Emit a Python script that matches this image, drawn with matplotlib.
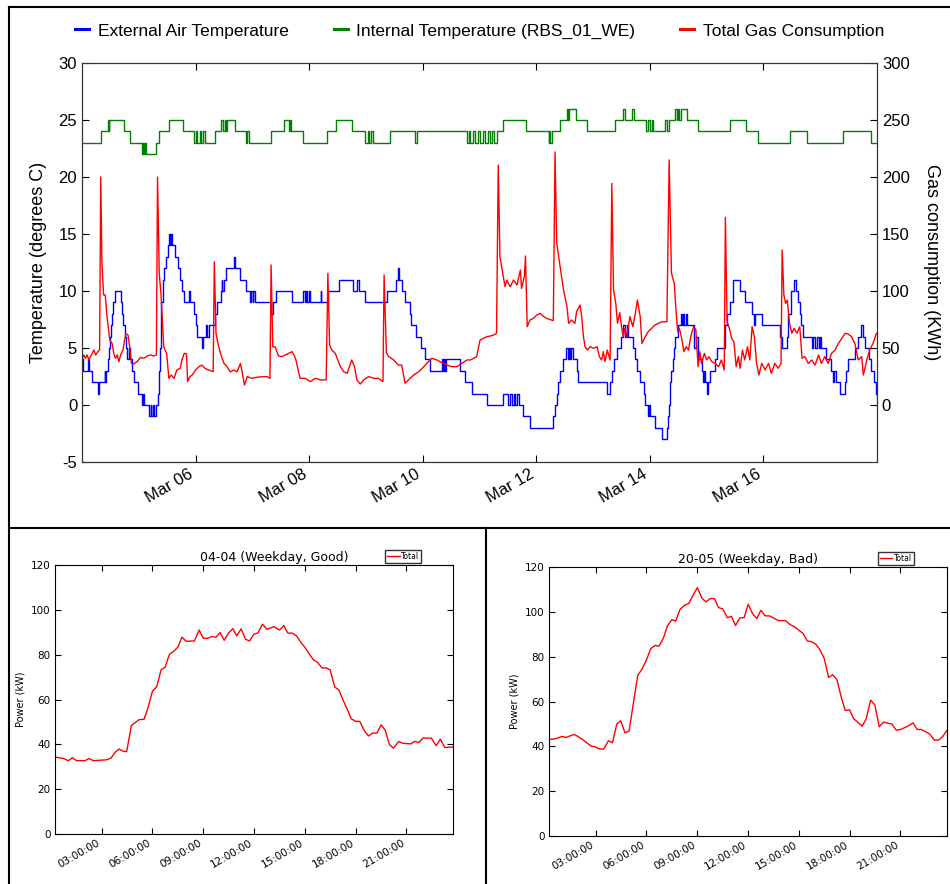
import numpy as np
import pandas as pd
import matplotlib
matplotlib.use('Agg')
import matplotlib.pyplot as plt
import matplotlib.dates as mdates
from matplotlib.lines import Line2D

plt.rcParams['axes.unicode_minus'] = False

# ---------------------------------------------------------------
# Data
# ---------------------------------------------------------------
start = pd.Timestamp('2014-03-04')

# external air temperature: (days since Mar 04, deg C), step changes
ext_air = [
    (0.00, 4), (0.02, 3), (0.10, 4), (0.13, 3), (0.18, 2), (0.28, 1), (0.30, 2), (0.40, 3), (0.41, 2),
    (0.43, 3), (0.45, 4), (0.47, 5), (0.49, 6), (0.51, 7), (0.53, 8), (0.55, 9), (0.58, 10), (0.68, 9),
    (0.70, 8), (0.72, 7), (0.75, 6), (0.78, 5), (0.80, 4), (0.82, 5), (0.84, 4), (0.88, 3), (0.91, 2),
    (0.98, 1), (1.06, 0), (1.08, 1), (1.09, 0), (1.18, -1), (1.21, 0), (1.22, -1), (1.25, 0), (1.26, -1),
    (1.31, 0), (1.33, 1), (1.35, 3), (1.37, 5), (1.39, 7), (1.40, 9), (1.43, 11), (1.45, 12), (1.48, 13),
    (1.51, 14), (1.53, 15), (1.55, 14), (1.56, 15), (1.59, 14), (1.63, 13), (1.69, 12), (1.72, 11),
    (1.76, 10), (1.79, 9), (1.88, 10), (1.90, 9), (1.97, 8), (2.00, 7), (2.03, 6), (2.11, 5), (2.13, 6),
    (2.19, 7), (2.21, 6), (2.23, 7), (2.34, 8), (2.38, 9), (2.44, 10), (2.46, 11), (2.47, 10), (2.50, 11),
    (2.54, 12), (2.67, 13), (2.69, 12), (2.79, 11), (2.88, 10), (2.96, 9), (2.98, 10), (3.01, 9),
    (3.02, 10), (3.04, 9), (3.32, 8), (3.36, 9), (3.42, 10), (3.70, 9), (3.90, 10), (3.92, 9), (3.94, 10),
    (3.97, 9), (3.99, 10), (4.01, 9), (4.20, 10), (4.21, 9), (4.34, 10), (4.52, 11), (4.77, 10),
    (4.85, 11), (4.87, 10), (4.99, 9), (5.37, 10), (5.53, 11), (5.56, 12), (5.59, 11), (5.63, 10),
    (5.68, 9), (5.77, 8), (5.80, 7), (5.88, 6), (5.97, 5), (6.04, 4), (6.13, 3), (6.34, 4), (6.36, 3),
    (6.38, 4), (6.40, 3), (6.41, 4), (6.65, 3), (6.74, 2), (6.87, 1), (7.13, 0), (7.41, 1), (7.51, 0),
    (7.54, 1), (7.57, 0), (7.60, 1), (7.63, 0), (7.66, 1), (7.69, 0), (7.77, -1), (7.89, -2), (8.30, -1),
    (8.33, 0), (8.36, 1), (8.39, 2), (8.42, 3), (8.47, 4), (8.53, 5), (8.55, 4), (8.57, 5), (8.60, 4),
    (8.62, 5), (8.64, 4), (8.72, 3), (8.74, 2), (9.24, 1), (9.30, 2), (9.33, 3), (9.36, 4), (9.42, 5),
    (9.50, 6), (9.53, 7), (9.56, 6), (9.59, 7), (9.62, 6), (9.71, 5), (9.74, 4), (9.77, 3), (9.83, 2),
    (9.89, 1), (9.92, 0), (9.96, -1), (9.98, 0), (10.00, -1), (10.09, -2), (10.21, -3), (10.30, -2),
    (10.32, -1), (10.34, 0), (10.35, 1), (10.36, 2), (10.38, 3), (10.40, 4), (10.42, 5), (10.44, 6),
    (10.50, 7), (10.55, 8), (10.57, 7), (10.59, 8), (10.61, 7), (10.63, 8), (10.65, 7), (10.77, 5),
    (10.82, 6), (10.84, 5), (10.85, 4), (10.91, 3), (10.94, 2), (10.96, 3), (10.97, 2), (11.00, 1),
    (11.03, 2), (11.06, 3), (11.14, 4), (11.18, 5), (11.32, 7), (11.35, 8), (11.41, 9), (11.47, 11),
    (11.59, 10), (11.68, 9), (11.80, 8), (11.84, 7), (11.86, 8), (11.97, 7), (12.29, 6), (12.32, 5),
    (12.41, 6), (12.44, 8), (12.48, 10), (12.54, 11), (12.58, 10), (12.61, 9), (12.64, 8), (12.67, 7),
    (12.70, 6), (12.85, 5), (12.88, 6), (12.91, 5), (12.94, 6), (12.97, 5), (12.99, 6), (13.02, 5),
    (13.11, 4), (13.19, 3), (13.22, 2), (13.24, 3), (13.27, 2), (13.35, 1), (13.43, 2), (13.46, 3),
    (13.49, 4), (13.61, 5), (13.67, 6), (13.72, 7), (13.76, 6), (13.79, 5), (13.86, 4), (13.90, 3),
    (13.95, 2), (13.99, 1), (14.00, 1),
]

# internal temperature RBS_01_WE: (days since Mar 04, deg C), step changes
int_temp = [
    (0.00, 23), (0.33, 24), (0.46, 25), (0.47, 24), (0.48, 25), (0.74, 24), (0.85, 23), (1.05, 22),
    (1.07, 23), (1.09, 22), (1.11, 23), (1.12, 22), (1.31, 23), (1.36, 24), (1.53, 25), (1.78, 24),
    (1.97, 23), (2.00, 24), (2.03, 23), (2.07, 24), (2.10, 23), (2.13, 24), (2.17, 23), (2.35, 24),
    (2.45, 25), (2.48, 24), (2.51, 25), (2.54, 24), (2.55, 25), (2.70, 24), (2.89, 23), (2.91, 24),
    (2.94, 23), (3.33, 24), (3.56, 25), (3.65, 24), (3.66, 25), (3.68, 24), (3.89, 23), (4.31, 24),
    (4.47, 25), (4.75, 24), (4.99, 23), (5.03, 24), (5.05, 23), (5.09, 24), (5.12, 23), (5.43, 24),
    (5.87, 23), (5.90, 24), (6.78, 23), (6.81, 24), (6.84, 23), (6.88, 24), (6.92, 23), (6.97, 24),
    (7.01, 23), (7.06, 24), (7.10, 23), (7.15, 24), (7.18, 23), (7.22, 24), (7.25, 23), (7.30, 24),
    (7.42, 25), (7.82, 24), (8.22, 23), (8.23, 24), (8.25, 23), (8.27, 24), (8.41, 25), (8.54, 26),
    (8.55, 25), (8.57, 26), (8.70, 25), (8.90, 24), (9.38, 25), (9.52, 26), (9.56, 25), (9.68, 26),
    (9.72, 25), (9.94, 24), (9.97, 25), (10.00, 24), (10.03, 25), (10.06, 24), (10.27, 25), (10.30, 24),
    (10.34, 25), (10.44, 26), (10.47, 25), (10.49, 26), (10.52, 25), (10.54, 26), (10.65, 25),
    (10.85, 24), (11.41, 25), (11.69, 24), (11.91, 23), (12.46, 24), (12.76, 23), (13.41, 24),
    (13.90, 23), (14.00, 23),
]

# total gas consumption: (days since Mar 04, kWh)
gas = [
    (0.00, 39.5), (0.03, 43.9), (0.06, 41), (0.09, 44), (0.12, 39.5), (0.15, 42.4), (0.18, 45.3),
    (0.21, 48.2), (0.24, 43.9), (0.28, 46.8), (0.31, 48.2), (0.33, 200), (0.35, 127), (0.38, 96.5),
    (0.41, 96.5), (0.44, 77.5), (0.49, 57), (0.53, 54), (0.56, 45), (0.59, 41), (0.62, 44), (0.65, 38),
    (0.68, 44), (0.72, 48), (0.77, 62.3), (0.81, 61.4), (0.84, 51), (0.87, 36.5), (0.91, 36), (0.97, 38),
    (1.03, 41.8), (1.09, 41), (1.15, 43), (1.21, 43.9), (1.26, 43), (1.31, 43.9), (1.33, 200),
    (1.36, 115.5), (1.39, 98), (1.44, 51), (1.49, 45.3), (1.53, 23.4), (1.57, 26.3), (1.62, 23.4),
    (1.67, 30.7), (1.73, 32.2), (1.76, 39.5), (1.80, 45.3), (1.84, 45), (1.86, 20.5), (1.90, 24.9),
    (1.94, 26.3), (2.00, 30.7), (2.06, 33.6), (2.11, 35), (2.17, 32), (2.23, 30.7), (2.31, 29.2),
    (2.33, 125.7), (2.36, 62.9), (2.39, 54.7), (2.44, 45), (2.50, 36.5), (2.55, 34), (2.61, 29),
    (2.67, 30.7), (2.73, 29), (2.79, 36.5), (2.82, 29), (2.86, 17.5), (2.91, 24.9), (2.99, 23.4),
    (3.08, 24.3), (3.17, 24.9), (3.26, 24.9), (3.31, 23.4), (3.33, 122.8), (3.36, 51), (3.40, 51),
    (3.46, 43), (3.52, 42.4), (3.58, 43.9), (3.64, 45.3), (3.70, 46.8), (3.76, 41), (3.84, 23.4),
    (3.93, 23.4), (4.02, 20.5), (4.11, 23.4), (4.20, 22), (4.30, 22), (4.33, 115.5), (4.36, 52.6),
    (4.40, 48.2), (4.46, 45.3), (4.55, 33.6), (4.61, 29.2), (4.67, 27.8), (4.75, 39.5), (4.80, 33.6),
    (4.84, 22), (4.90, 18.4), (4.96, 22), (5.05, 24.9), (5.14, 23.4), (5.22, 23.4), (5.30, 20.5),
    (5.32, 114), (5.36, 45.9), (5.40, 42.4), (5.49, 39.5), (5.57, 35), (5.63, 35), (5.69, 19), (5.75, 22),
    (5.84, 26.3), (5.93, 29.2), (6.02, 33.6), (6.07, 36.5), (6.16, 41), (6.25, 39.5), (6.34, 37),
    (6.43, 35), (6.51, 33.6), (6.60, 33.6), (6.69, 36.5), (6.78, 39.5), (6.84, 39.5), (6.95, 42.4),
    (7.01, 57), (7.07, 58.5), (7.13, 60), (7.19, 60.5), (7.25, 61.4), (7.30, 62.9), (7.33, 210.5),
    (7.36, 130), (7.42, 112.6), (7.45, 103.8), (7.48, 109.6), (7.54, 103.8), (7.60, 109.6),
    (7.66, 105.3), (7.72, 118.4), (7.74, 102.3), (7.79, 112.6), (7.81, 130.7), (7.84, 68.7),
    (7.89, 74.6), (7.95, 76), (8.01, 79), (8.07, 80.4), (8.13, 77.5), (8.18, 76), (8.30, 74),
    (8.33, 222), (8.36, 141.8), (8.42, 121.3), (8.48, 100.9), (8.54, 86.3), (8.57, 71.6), (8.62, 74.6),
    (8.68, 71.6), (8.71, 81.9), (8.77, 87.7), (8.80, 77.5), (8.83, 60), (8.86, 51.2), (8.90, 48.2),
    (8.95, 51.2), (9.01, 49.7), (9.07, 51.2), (9.11, 42.4), (9.15, 39.5), (9.18, 46.8), (9.21, 38),
    (9.25, 48.2), (9.30, 39.5), (9.33, 194.4), (9.36, 100.9), (9.40, 89.2), (9.43, 71.6), (9.47, 81),
    (9.50, 68.7), (9.53, 60), (9.56, 67.3), (9.59, 60), (9.65, 77.5), (9.70, 68.7), (9.74, 79),
    (9.78, 92.1), (9.83, 77.5), (9.86, 54), (9.92, 60), (9.97, 64.3), (10.03, 67.3), (10.09, 70.2),
    (10.15, 71.6), (10.21, 73), (10.30, 73), (10.34, 215), (10.38, 115.5), (10.43, 106.7), (10.46, 83.3),
    (10.49, 64.3), (10.52, 67.3), (10.56, 58.5), (10.60, 46.8), (10.64, 51.2), (10.68, 48.2), (10.72, 60),
    (10.77, 68.7), (10.81, 65.8), (10.85, 33.6), (10.88, 46.8), (10.91, 36.5), (10.96, 45.3),
    (11.00, 39.5), (11.04, 42.4), (11.09, 38), (11.15, 36.5), (11.21, 33.6), (11.26, 39.5), (11.31, 30.7),
    (11.33, 164.6), (11.36, 73), (11.40, 67.3), (11.44, 58.5), (11.48, 55.6), (11.52, 33.6),
    (11.56, 42.4), (11.59, 32.2), (11.63, 48.2), (11.67, 39.5), (11.72, 51.2), (11.76, 39.5),
    (11.80, 68.7), (11.84, 60), (11.88, 36.5), (11.92, 26.3), (11.97, 36.5), (12.03, 30.7), (12.09, 36.5),
    (12.14, 27.8), (12.20, 36.5), (12.26, 32.2), (12.31, 36.5), (12.33, 136), (12.36, 96.5),
    (12.39, 89.2), (12.42, 92), (12.46, 71.6), (12.50, 62.9), (12.54, 67.3), (12.59, 62.9), (12.64, 68.7),
    (12.68, 41), (12.73, 42.4), (12.79, 36.5), (12.85, 39.5), (12.91, 35), (12.97, 43.9), (13.02, 36.5),
    (13.08, 42.4), (13.14, 36.5), (13.20, 45.3), (13.26, 48.2), (13.32, 54), (13.38, 58.5),
    (13.44, 62.9), (13.49, 62.3), (13.55, 60), (13.61, 54), (13.67, 39.5), (13.73, 42.4), (13.76, 26.3),
    (13.82, 39.5), (13.87, 48.2), (13.93, 54), (13.99, 62.9),
]

# daily power profiles (hour of day, kW)
good_hours = [0.25, 0.74, 1.04, 1.27, 1.53, 2.02, 2.26, 2.52, 3.30, 3.56, 3.80, 4.03, 4.25, 4.48, 4.76,
              5.21, 5.51, 5.73, 6.00, 6.26, 6.51, 6.75, 7.01, 7.24, 7.50, 7.75, 7.99, 8.48, 8.76, 9.01,
              9.27, 9.51, 9.76, 10.0, 10.24, 10.49, 10.75, 10.98, 11.24, 11.50, 11.73, 11.99, 12.23,
              12.50, 12.76, 13.19, 13.51, 13.76, 14.0, 14.25, 14.51, 14.77, 15.0, 15.24, 15.51, 15.75,
              16.01, 16.26, 16.50, 16.76, 17.01, 17.25, 17.50, 17.74, 18.0, 18.25, 18.53, 18.76, 19.0,
              19.26, 19.51, 19.75, 20.0, 20.24, 20.54, 20.77, 21.25, 21.48, 21.74, 21.98, 22.47, 22.76,
              23.0, 23.26, 23.75]
good_power = [34.3, 33.7, 32.7, 34, 32.7, 32.7, 33.7, 32.7, 33.1, 33.9, 36.4, 37.9, 37, 36.7, 48.4, 51,
              51.2, 56, 63.6, 65.8, 73.2, 74.4, 80.2, 81.4, 83.3, 87.8, 86, 86.1, 91, 87.3, 87.3, 88.1,
              87.8, 89.9, 86.4, 89.6, 91.6, 88.4, 91.5, 86.9, 86.1, 89.1, 89.7, 93.6, 91.3, 92.5, 91, 93,
              89.6, 89.6, 88.4, 85.4, 83.3, 80.6, 77.7, 76.6, 74.1, 74.1, 73.2, 65.6, 64.3, 59.9, 55.7,
              51.4, 50.3, 50.2, 45.9, 43.7, 45, 45, 48.7, 46.3, 39.8, 38.3, 41.3, 40.5, 40.2, 41.3, 40.8,
              42.8, 42.8, 39.4, 42.3, 38.6, 38.8]

bad_hours = [0.25, 0.51, 0.76, 1.0, 1.25, 1.51, 1.75, 1.98, 2.28, 2.73, 2.97, 3.22, 3.48, 3.76, 4.0,
             4.25, 4.48, 4.74, 4.98, 5.23, 5.49, 5.73, 5.98, 6.26, 6.51, 6.75, 7.01, 7.24, 7.5, 7.73,
             7.99, 8.25, 8.50, 8.76, 9.01, 9.27, 9.51, 9.76, 10.02, 10.26, 10.51, 10.77, 11.02, 11.26,
             11.52, 11.77, 12.01, 12.27, 12.52, 12.76, 13.01, 13.27, 13.78, 14.21, 14.49, 14.75, 15.0,
             15.26, 15.5, 15.75, 16.01, 16.24, 16.5, 16.76, 17.0, 17.25, 17.5, 17.74, 18.0, 18.23, 18.74,
             18.98, 19.24, 19.49, 19.75, 20.0, 20.5, 20.75, 21.01, 21.48, 21.74, 21.99, 22.25, 22.74,
             23.0, 23.26, 23.49, 23.75]
bad_power = [43.1, 43.2, 43.7, 44.4, 44, 44.7, 45.3, 44.3, 42.8, 40.1, 39.8, 38.8, 38.8, 42.5, 41.6,
             49.9, 51.4, 46, 46.8, 59.1, 71.7, 74.3, 78.1, 83.6, 85, 84.7, 88.4, 93.7, 96.5, 95.9, 101.1,
             102.9, 103.7, 107.4, 110.8, 106.2, 104.4, 105.9, 105.9, 101.9, 101.3, 97.4, 98, 93.9, 97.3,
             97.4, 103.4, 99.2, 97, 100.7, 98.2, 98.2, 96.1, 96.1, 94.3, 93.3, 91.8, 90.3, 87, 86.7, 85.5,
             83.2, 79.2, 70.7, 71.9, 69.8, 62.1, 56, 56.3, 52.4, 49, 52.3, 60.6, 58.4, 48.7, 50.8, 49.9,
             47.2, 47.5, 49.2, 50.5, 47.5, 47.5, 45.4, 42.8, 42.8, 44.3, 47.2]

hour_ticks = [3, 6, 9, 12, 15, 18, 21]
hour_labels = ['03:00:00', '06:00:00', '09:00:00', '12:00:00', '15:00:00', '18:00:00', '21:00:00']


def to_dates(days):
    return start + pd.to_timedelta(np.asarray(days, dtype=float), unit='D')


# ---------------------------------------------------------------
# Figure
# ---------------------------------------------------------------
fig = plt.figure(figsize=(9.5, 8.84), dpi=100)
W, H = 950.0, 884.0

# panel frame lines
for xs, ys in [([9, 950], [7, 7]), ([9, 9], [7, 884]), ([9, 950], [528, 528]), ([486, 486], [528, 884])]:
    fig.add_artist(Line2D([x / W for x in xs], [1 - y / H for y in ys],
                          transform=fig.transFigure, color='k', lw=1.5))

# ---- top: temperatures and gas ----
top_font = 'Liberation Sans'
ax = fig.add_axes([82 / W, 1 - 462 / H, 795 / W, 399 / H])
ax2 = ax.twinx()

ed, ev = zip(*ext_air)
idd, iv = zip(*int_temp)
gd, gv = zip(*gas)
l1, = ax.plot(to_dates(ed), ev, color='b', lw=1, drawstyle='steps-post', label='External Air Temperature')
l2, = ax.plot(to_dates(idd), iv, color='g', lw=1, drawstyle='steps-post',
              label='Internal Temperature (RBS_01_WE)')
l3, = ax2.plot(to_dates(gd), gv, color='r', lw=1, label='Total Gas Consumption')

ax.set_xlim(start, start + pd.Timedelta(days=14))
ax.set_ylim(-5, 30)
ax.set_yticks(range(-5, 31, 5))
ax2.set_ylim(-50, 300)
ax2.set_yticks(range(0, 301, 50))
ax.xaxis.set_major_locator(mdates.DayLocator(bymonthday=[6, 8, 10, 12, 14, 16]))
ax.xaxis.set_major_formatter(mdates.DateFormatter('%b %d'))
ax.tick_params(direction='in', top=True, length=5, labelsize=12)
ax2.tick_params(direction='in', length=5, labelsize=12)
for lab in ax.get_xticklabels():
    lab.set_rotation(30)
    lab.set_ha('right')
for lab in ax.get_xticklabels() + ax.get_yticklabels() + ax2.get_yticklabels():
    lab.set_family(top_font)
ax.set_ylabel('Temperature (degrees C)', fontsize=13, family=top_font, labelpad=8)
ax2.set_ylabel('Gas consumption (KWh)', fontsize=13, family=top_font, rotation=270, labelpad=22)
for a in (ax, ax2):
    for s in a.spines.values():
        s.set_color('#333333')

leg = fig.legend(handles=[l1, l2, l3], loc='center', bbox_to_anchor=(0.505, 1 - 31 / H), ncol=3,
                 frameon=False, handlelength=0.8, handletextpad=0.5, columnspacing=2.6,
                 prop={'family': top_font, 'size': 12.5})
for h in leg.get_lines():
    h.set_linewidth(2.2)


# ---- bottom: daily profiles ----
def day_plot(rect, hours, power, title, title_x, leg_x):
    a = fig.add_axes(rect)
    a.plot(hours, power, color='r', lw=1, label='Total')
    a.set_xlim(0.25, 23.75)
    a.set_ylim(0, 120)
    a.set_yticks(range(0, 121, 20))
    a.set_xticks(hour_ticks)
    a.set_xticklabels(hour_labels, rotation=30, ha='right')
    a.tick_params(direction='in', top=True, right=True, length=4, labelsize=7.5, pad=3)
    a.set_title(title, fontsize=9, x=title_x, pad=3)
    a.set_ylabel('Power (kW)', fontsize=7, labelpad=4)
    for s in a.spines.values():
        s.set_color('k')
    a.legend(loc='lower right', bbox_to_anchor=(leg_x, 1.008), fontsize=5.5, handlelength=1.6,
             handletextpad=0.2, borderpad=0.25, borderaxespad=0, fancybox=False, edgecolor='#333333',
             framealpha=1)
    return a


day_plot([55 / W, 1 - 834 / H, 398 / W, 269 / H], good_hours, good_power,
         '04-04 (Weekday, Good)', 0.55, 0.92)
day_plot([549 / W, 1 - 836 / H, 398 / W, 269 / H], bad_hours, bad_power,
         '20-05 (Weekday, Bad)', 0.5, 0.917)

fig.savefig('out.png', dpi=100)
